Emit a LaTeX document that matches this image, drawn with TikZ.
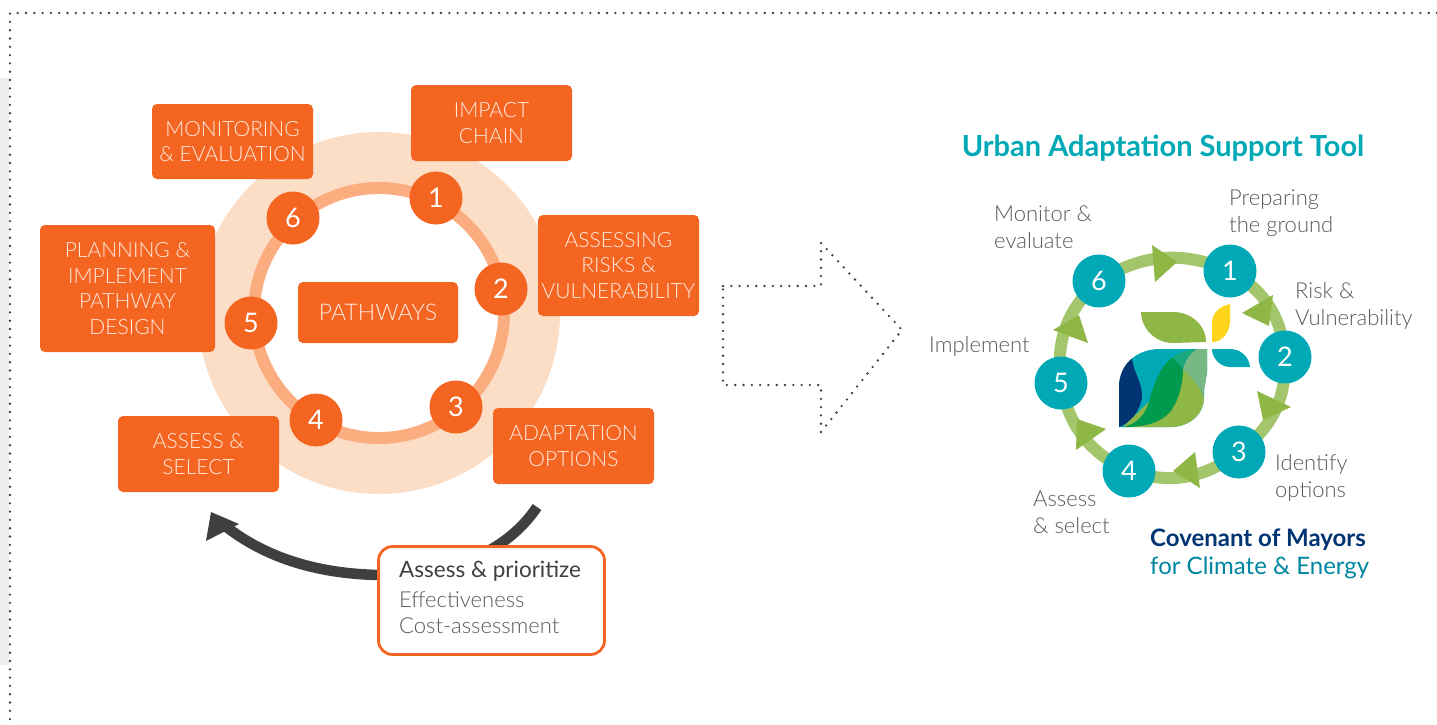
\documentclass[tikz,border=0pt]{standalone}
\usepackage{fontspec}
\setmainfont{Lato Light}[BoldFont=Lato Bold]
\newfontfamily\regfont{Lato}
\usetikzlibrary{positioning}
\definecolor{cOrange}{HTML}{F46522}
\definecolor{cPale}{HTML}{FCDDC6}
\definecolor{cMid}{HTML}{FBAD80}
\definecolor{cBoxText}{HTML}{FFE9DD}
\definecolor{cTeal}{HTML}{00A9B5}
\definecolor{cRing}{HTML}{A3C56C}
\definecolor{cLeaf}{HTML}{8FB746}
\definecolor{cNavy}{HTML}{003473}
\definecolor{cDeep}{HTML}{009A4E}
\definecolor{cPaleG}{HTML}{78B884}
\definecolor{cMidG}{HTML}{1AA87C}
\definecolor{cYellow}{HTML}{FFD51C}
\definecolor{cGrey}{HTML}{58595B}
\definecolor{cDark}{HTML}{3F3F3F}
\definecolor{cStrip}{HTML}{EDEDED}
\tikzset{
  orangebox/.style={fill=cOrange,rounded corners=5pt,inner sep=0pt,text=cBoxText,align=center,font=\fontsize{21}{25.6}\selectfont},
  ornum/.style={circle,fill=cOrange,text=white,minimum size=53pt,inner sep=0pt,font=\regfont\fontsize{27}{27}\selectfont},
  tealnum/.style={circle,fill=cTeal,text=white,minimum size=53pt,inner sep=0pt,font=\regfont\fontsize{27}{27}\selectfont},
  lbl/.style={text=cGrey,align=left,anchor=west,inner sep=0pt,font=\fontsize{22}{26.8}\selectfont},
  dots/.style={draw=cDark,line width=2.6pt,line cap=round,dash pattern=on 0pt off 8.3pt},
  ringseg/.style={draw=cRing,line width=12pt},
  tri/.style={fill=cLeaf},
}
\begin{document}
\begin{tikzpicture}[x=1pt,y=-1pt]
\useasboundingbox (0,0) rectangle (1437,724);
\fill[cStrip] (0,78) rectangle (9,665);
\draw[dots] (1437,13) -- (10,13) -- (10,724);
% left rings
\coordinate (lc) at (379,313);
\draw[cPale,line width=56pt] (lc) circle[radius=153pt];
\draw[cMid,line width=12pt] (lc) circle[radius=125pt];
% boxes
\node[orangebox,minimum width=161pt,minimum height=75pt] (monitoring) at (232.5,141.5) {MONITORING\\\& EVALUATION};
\node[orangebox,minimum width=161pt,minimum height=76pt] (impact) at (491.5,123) {IMPACT\\CHAIN};
\node[orangebox,minimum width=161pt,minimum height=101pt] (assessing) at (618.5,265.5) {ASSESSING\\RISKS \&\\VULNERABILITY};
\node[orangebox,minimum width=175pt,minimum height=127pt] (planning) at (127.5,288.5) {PLANNING \&\\IMPLEMENT\\PATHWAY\\DESIGN};
\node[orangebox,minimum width=160pt,minimum height=61pt] (pathways) at (378,312.5) {\fontsize{23}{26}\selectfont PATHWAYS};
\node[orangebox,minimum width=161pt,minimum height=76pt] (select) at (198.5,454) {ASSESS \&\\SELECT};
\node[orangebox,minimum width=161pt,minimum height=76pt] (options) at (573.5,446) {ADAPTATION\\OPTIONS};
\node[ornum] (a1) at (436,198) {1};
\node[ornum] (a2) at (501,289) {2};
\node[ornum] (a3) at (456,407) {3};
\node[ornum] (a4) at (316,420) {4};
\node[ornum] (a5) at (251,323) {5};
\node[ornum] (a6) at (293,218) {6};
% dark arc
\coordinate (arcstart) at (537,507);
\coordinate (arcmid) at (385,575);
\coordinate (arcend) at (224,525);
\draw[cDark,line width=10.5pt] (arcstart) .. controls (505,555) and (445,575) .. (arcmid) .. controls (320,575) and (265,558) .. (arcend);
\fill[cDark] (211,512) -- (206,541) -- (239,524) -- cycle;
\node[draw=cOrange,line width=2.8pt,fill=white,rounded corners=14pt,minimum width=226pt,minimum height=108pt] (prior) at (491.5,600.5) {};
\node[anchor=west,inner sep=0pt,text=cDark,font=\regfont\fontsize{22.5}{26}\selectfont] (priot) at (399,571) {Assess \& prioritize};
\node[lbl] (eff) at (399,600) {Effectiveness};
\node[lbl] (cost) at (399,626) {Cost-assessment};
% dotted arrow
\draw[dots] (723,286) -- (821,286) -- (821,243) -- (902,330) -- (821,432) -- (821,385) -- (723,385) -- cycle;
% title
\node[text=cTeal,inner sep=0pt,font=\bfseries\fontsize{29}{32}\selectfont] (title) at (1163,148) {Urban Adaptation Support Tool};
% right ring
\coordinate (b1) at (1230,271);
\coordinate (b2) at (1285,357);
\coordinate (b3) at (1239,452);
\coordinate (b4) at (1129,471);
\coordinate (b5) at (1061,383);
\coordinate (b6) at (1099,281);
\draw[ringseg] (b1) to[bend left=28] (b2);
\draw[ringseg] (b2) to[bend left=28] (b3);
\draw[ringseg] (b3) to[bend left=28] (b4);
\draw[ringseg] (b4) to[bend left=28] (b5);
\draw[ringseg] (b5) to[bend left=28] (b6);
\draw[ringseg] (b6) to[bend left=28] (b1);
\fill[tri] (1152,245) -- (1155,282) -- (1177,262) -- cycle;
\fill[tri] (1273,295) -- (1242,313) -- (1269,326) -- cycle;
\fill[tri] (1257,391) -- (1291,407) -- (1263,420) -- cycle;
\fill[tri] (1195,452) -- (1173,471) -- (1200,488) -- cycle;
\fill[tri] (1077,419) -- (1106,429) -- (1076,450) -- cycle;
\fill[tri] (1079,315) -- (1053,330) -- (1088,343) -- cycle;
\node[tealnum] (n1) at (b1) {1};
\node[tealnum] (n2) at (b2) {2};
\node[tealnum] (n3) at (b3) {3};
\node[tealnum] (n4) at (b4) {4};
\node[tealnum] (n5) at (b5) {5};
\node[tealnum] (n6) at (b6) {6};
% logo
\fill[cLeaf] (1141,312) -- (1173,312) .. controls (1192,312) and (1206,326) .. (1206,342) -- (1173,343) .. controls (1155,343) and (1141,328) .. (1141,312) -- cycle;
\fill[cYellow] (1230,304) -- (1230,320) .. controls (1230,333) and (1222,342) .. (1212,342) -- (1212,323) .. controls (1212,313) and (1220,306) .. (1230,304) -- cycle;
\fill[cTeal] (1212,349) -- (1230,349) .. controls (1241,349) and (1249,357) .. (1250,367) -- (1230,367) .. controls (1220,367) and (1212,358) .. (1212,349) -- cycle;
\begin{scope}
\clip (1119,427) -- (1119,387) .. controls (1119,365) and (1136,349) .. (1160,349) -- (1207,349) -- (1207,373) -- (1204,390) -- (1204,397) .. controls (1204,414) and (1190,427) .. (1170,427) -- cycle;
\fill[cTeal] (1115,345) rectangle (1210,430);
\fill[cNavy] (1110,350) -- (1132,358) .. controls (1134,375) and (1142,380) .. (1142,397) .. controls (1140,412) and (1130,423) .. (1119,427) -- (1110,430) -- cycle;
\fill[cLeaf] (1183,369) .. controls (1193,378) and (1204,390) .. (1205,405) -- (1205,430) -- (1123,430) -- (1123,427) -- cycle;
\fill[cDeep] (1173,357) -- (1183,369) .. controls (1183,385) and (1178,402) .. (1170,412) .. controls (1160,423) and (1145,427) .. (1123,427) .. controls (1135,424) and (1143,418) .. (1148,405) .. controls (1153,388) and (1158,368) .. (1173,357) -- cycle;
\fill[cPaleG] (1183,369) .. controls (1185,360) and (1190,353) .. (1197,349) -- (1210,349) -- (1210,400) -- (1205,405) .. controls (1204,390) and (1193,378) .. (1183,369) -- cycle;
\fill[cMidG] (1173,357) .. controls (1180,352) and (1188,350) .. (1197,349) .. controls (1190,353) and (1185,360) .. (1183,369) -- cycle;
\end{scope}
% labels
\node[lbl] (l6) at (994,227) {Monitor \&\\evaluate};
\node[lbl] (l1) at (1229,213) {Preparing\\the ground};
\node[lbl] (l2) at (1295,306) {Risk \&\\Vulnerability};
\node[lbl] (l3) at (1275,478) {Identify\\options};
\node[lbl] (l4) at (1033,512) {Assess\\\& select};
\node[lbl] (l5) at (929,346) {Implement};
\node[anchor=west,inner sep=0pt,text=cNavy,font=\bfseries\fontsize{24}{28}\selectfont] (com) at (1150,540) {Covenant of Mayors};
\node[anchor=west,inner sep=0pt,text=cTeal!70!cNavy,font=\regfont\fontsize{24}{28}\selectfont] (cli) at (1150,568) {for Climate \& Energy};
\end{tikzpicture}
\end{document}
